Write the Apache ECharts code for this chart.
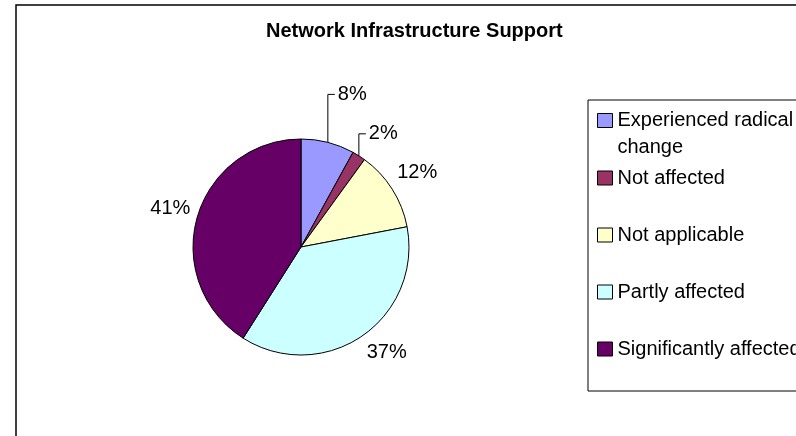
<!DOCTYPE html>
<html>
<head>
<meta charset="utf-8">
<script src="https://cdn.jsdelivr.net/npm/echarts@6.0.0/dist/echarts.min.js"></script>
<style>
  body { margin: 0; background: #fff; }
  #chart { width: 796px; height: 436px; }
</style>
</head>
<body>
<div id="chart"></div>
<script>
// values
const categories = ['Experienced radical change', 'Not affected', 'Not applicable', 'Partly affected', 'Significantly affected'];
const shares = [8, 2, 12, 37, 41];
const sliceColors = ['#9999ff', '#993366', '#ffffcc', '#ccffff', '#660066'];

// label placement: small slices get an elbow leader, the rest are nudged
const leaderRise = [48, 22, 0, 0, 0];
const labelNudge = [[0, 0], [0, 0], [0, -17], [0, 16], [-2, -8]];

const chart = echarts.init(document.getElementById('chart'));

chart.setOption({
  animation: false,
  backgroundColor: '#fff',
  textStyle: { fontFamily: 'Liberation Sans, Arial, sans-serif' },
  title: {
    text: 'Network Infrastructure Support',
    left: 266,
    top: 21,
    padding: 0,
    textStyle: { fontSize: 20, fontWeight: 'bold', color: '#000' }
  },
  graphic: [{
    type: 'rect',
    shape: { x: 16, y: 5, width: 820, height: 460 },
    style: { fill: 'none', stroke: '#000', lineWidth: 1.5 },
    silent: true
  }],
  legend: [
    {
      // first entry wraps onto two lines; an empty leading line keeps
      // the first text line level with the swatch
      data: [categories[0]],
      orient: 'vertical',
      left: 588,
      top: 80,
      padding: [0, 0, 0, 9],
      itemWidth: 15,
      itemHeight: 14,
      icon: 'rect',
      selectedMode: false,
      formatter: function (name) { return '\n' + name; },
      itemStyle: { borderColor: '#000', borderWidth: 1 },
      textStyle: { fontSize: 20, color: '#000', lineHeight: 27, width: 190, overflow: 'break' }
    },
    {
      data: categories.slice(1),
      orient: 'vertical',
      left: 588,
      top: 100,
      padding: [68, 30, 32, 9],
      itemGap: 37,
      itemWidth: 15,
      itemHeight: 14,
      icon: 'rect',
      selectedMode: false,
      borderColor: '#000',
      borderWidth: 1,
      itemStyle: { borderColor: '#000', borderWidth: 1 },
      textStyle: { fontSize: 20, color: '#000', lineHeight: 20 }
    }
  ],
  series: [{
    type: 'pie',
    center: [301, 247],
    radius: 108,
    startAngle: 90,
    clockwise: true,
    avoidLabelOverlap: false,
    itemStyle: { borderColor: '#000', borderWidth: 1 },
    label: {
      show: true,
      position: 'outside',
      formatter: '{c}%',
      fontSize: 20,
      color: '#000'
    },
    labelLine: { show: false, length: 0, length2: 0 },
    labelLayout: function (params) {
      const i = params.dataIndex;
      const rise = leaderRise[i];
      if (rise > 0 && params.labelLinePoints) {
        const p0 = params.labelLinePoints[0];
        const elbow = [p0[0], p0[1] - rise];
        const end = [p0[0] + 7, p0[1] - rise];
        return {
          x: end[0] + 3,
          y: end[1],
          align: 'left',
          verticalAlign: 'middle',
          labelLinePoints: [p0, elbow, end]
        };
      }
      return { dx: labelNudge[i][0], dy: labelNudge[i][1] };
    },
    data: categories.map(function (name, i) {
      const item = { name: name, value: shares[i], itemStyle: { color: sliceColors[i] } };
      if (leaderRise[i] > 0) {
        item.labelLine = { show: true, length: 10, length2: 5, lineStyle: { color: '#000', width: 1 } };
      }
      return item;
    })
  }]
});
</script>
</body>
</html>
